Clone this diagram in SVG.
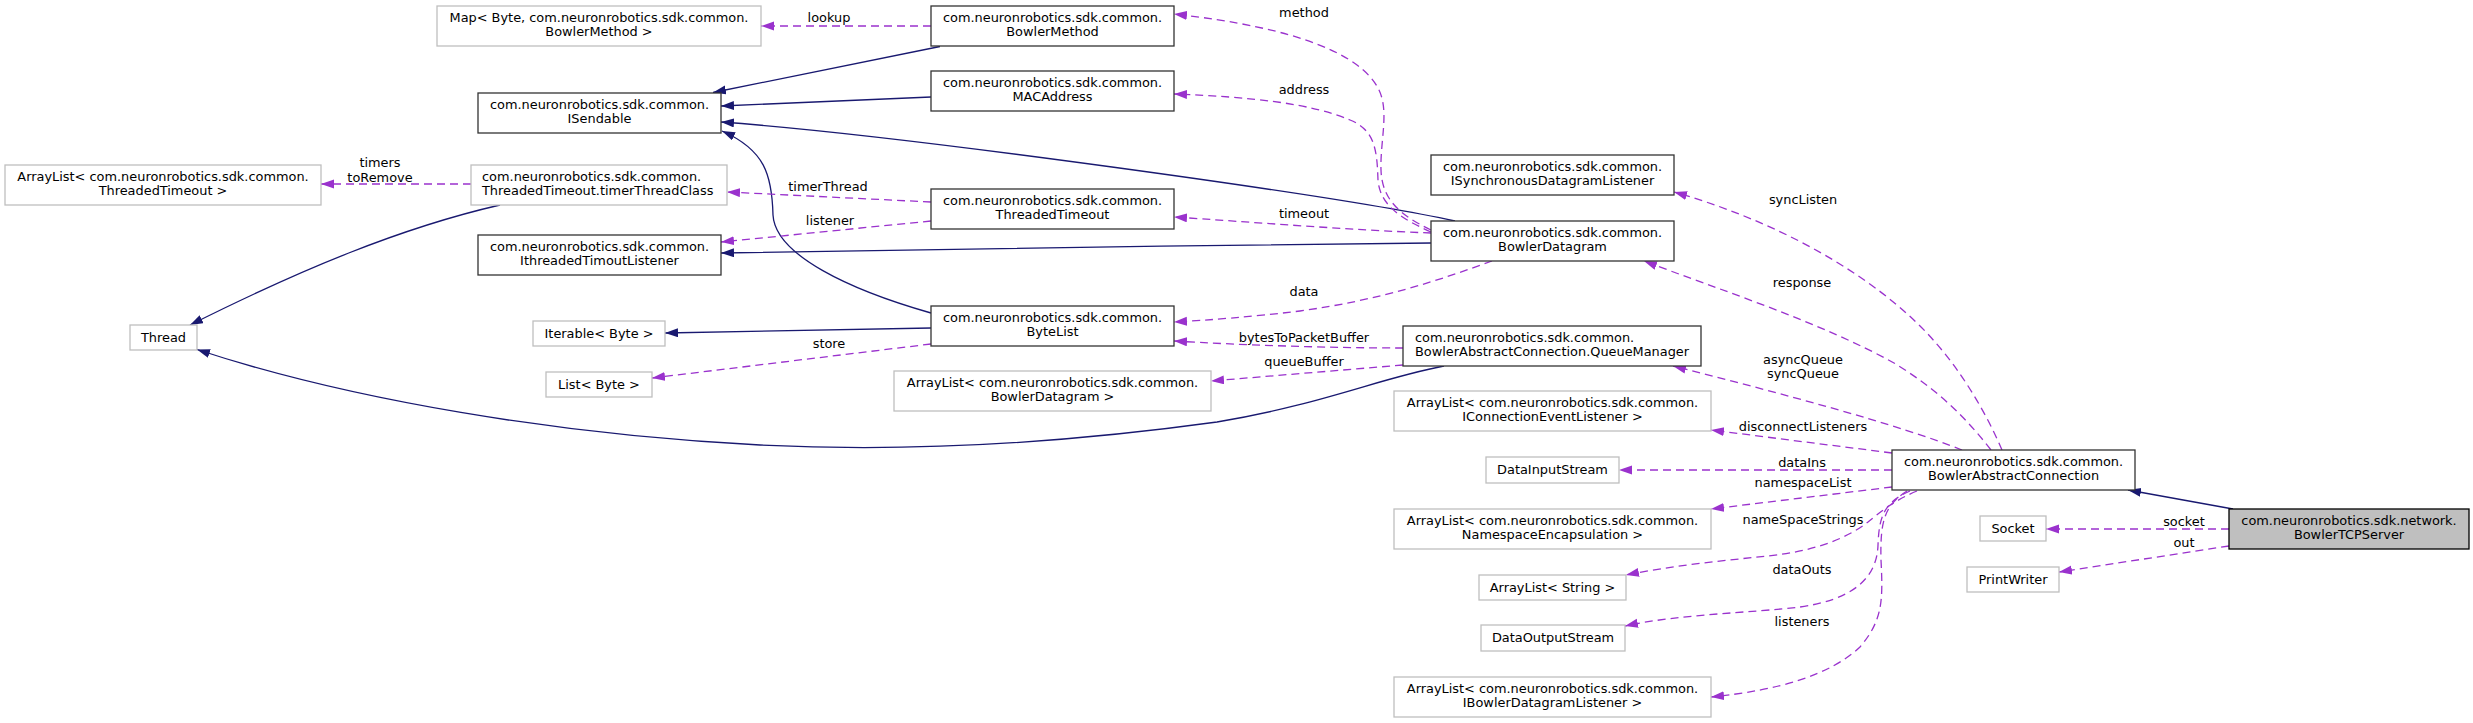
<svg xmlns="http://www.w3.org/2000/svg" width="2473" height="723" viewBox="0 0 2473 723">
<style>
text{font-family:"DejaVu Sans",sans-serif;font-size:12.9px;fill:#000}
.n rect{fill:#fff;stroke:#333;stroke-width:1.3}
.n.u rect{stroke:#bfbfbf}
.n.m rect{fill:#bfbfbf;stroke:#000}
.n text,.lbl text{text-anchor:middle}
.n text.l{text-anchor:start}
.inh{fill:none;stroke:#191970;stroke-width:1.3;marker-end:url(#ab)}
.use{fill:none;stroke:#9a32cd;stroke-width:1.3;stroke-dasharray:8,5;marker-end:url(#ap)}
</style>
<defs>
<marker id="ab" markerUnits="userSpaceOnUse" markerWidth="14" markerHeight="10" refX="13" refY="4.5" orient="auto"><path d="M0,0 L13,4.5 L0,9 z" fill="#191970"/></marker>
<marker id="ap" markerUnits="userSpaceOnUse" markerWidth="14" markerHeight="10" refX="13" refY="4.5" orient="auto"><path d="M0,0 L13,4.5 L0,9 z" fill="#9a32cd"/></marker>
</defs>
<rect width="2473" height="723" fill="#fff"/>
<g id="connectors">
<path class="inh" d="M940,46.5 L713,92.5"/>
<path class="inh" d="M931,97 L721,106"/>
<path class="inh" d="M1455,221 C1340,196 900,135 721,122"/>
<path class="inh" d="M1431,243 C1200,245 900,250 721,253"/>
<path class="inh" d="M931,313 C850,290 775,255 773,215 C772,175 765,150 722,131"/>
<path class="inh" d="M931,328 L665,333"/>
<path class="inh" d="M500,205 C400,228 300,270 190,325"/>
<path class="inh" d="M1444,366 C1380,378 1320,405 1217,422 C1050,445 900,452 760,445 C560,435 350,400 197,349.5"/>
<path class="inh" d="M2233,509 L2128,490"/>
<path class="use" d="M931,26 L761,26"/>
<path class="use" d="M471,184 L321,184"/>
<path class="use" d="M931,202 L727,192"/>
<path class="use" d="M931,221 L721,242"/>
<path class="use" d="M931,344 L652,378"/>
<path class="use" d="M1431,230 C1400,215 1382,200 1381,170 C1380,140 1390,110 1378,88 C1360,55 1300,28 1174,14"/>
<path class="use" d="M1431,232 C1400,218 1380,205 1378,180 C1377,150 1375,130 1350,120 C1310,103 1250,97 1174,94"/>
<path class="use" d="M1431,233 C1350,230 1250,222 1174,217"/>
<path class="use" d="M1492,261 C1440,280 1380,300 1300,311 C1250,317 1210,320 1174,322"/>
<path class="use" d="M1403,348 C1330,348 1240,345 1174,341"/>
<path class="use" d="M1403,365 L1211,381"/>
<path class="use" d="M2002,450 C1985,410 1960,370 1935,342 C1890,290 1800,228 1674,192"/>
<path class="use" d="M1991,450 C1960,410 1930,385 1894,363 C1820,322 1720,290 1644,261"/>
<path class="use" d="M1962,450 C1900,425 1780,393 1673,366"/>
<path class="use" d="M1892,453 L1711,430"/>
<path class="use" d="M1892,470 L1619,470"/>
<path class="use" d="M1892,487 L1711,509"/>
<path class="use" d="M1917,491 C1895,500 1880,512 1868,522 C1845,540 1810,552 1767,556 C1720,561 1670,566 1626,575"/>
<path class="use" d="M1910,491 C1885,502 1879,515 1878,545 C1877,580 1850,600 1800,607 C1750,613 1680,614 1625,626"/>
<path class="use" d="M1907,491 C1885,505 1880,520 1881,560 C1883,600 1883,620 1860,647 C1830,675 1780,690 1711,697"/>
<path class="use" d="M2229,529 L2046,529"/>
<path class="use" d="M2229,546 L2059,572"/>
</g>
<g id="labels" class="lbl">
<text x="829" y="21.5">lookup</text>
<text x="380" y="166.5">timers</text>
<text x="380" y="181.5">toRemove</text>
<text x="828" y="190.5">timerThread</text>
<text x="830" y="224.5">listener</text>
<text x="829" y="347.5">store</text>
<text x="1304" y="16.5">method</text>
<text x="1304" y="93.5">address</text>
<text x="1304" y="217.5">timeout</text>
<text x="1304" y="295.5">data</text>
<text x="1304" y="341.5">bytesToPacketBuffer</text>
<text x="1304" y="365.5">queueBuffer</text>
<text x="1803" y="203.5">syncListen</text>
<text x="1802" y="286.5">response</text>
<text x="1803" y="363.5">asyncQueue</text>
<text x="1803" y="377.5">syncQueue</text>
<text x="1803" y="430.5">disconnectListeners</text>
<text x="1802" y="466.5">dataIns</text>
<text x="1803" y="486.5">namespaceList</text>
<text x="1803" y="523.5">nameSpaceStrings</text>
<text x="1802" y="573.5">dataOuts</text>
<text x="1802" y="625.5">listeners</text>
<text x="2184" y="525.5">socket</text>
<text x="2184" y="546.5">out</text>
</g>
<g id="n_map" class="n u"><rect x="437" y="6" width="324" height="40"/><text x="599" y="22">Map&lt; Byte, com.neuronrobotics.sdk.common.</text><text x="599" y="36">BowlerMethod &gt;</text></g>
<g id="n_bowlermethod" class="n"><rect x="931" y="6" width="243" height="40"/><text x="1052.5" y="22">com.neuronrobotics.sdk.common.</text><text x="1052.5" y="36">BowlerMethod</text></g>
<g id="n_isendable" class="n"><rect x="478" y="93" width="243" height="40"/><text x="599.5" y="109">com.neuronrobotics.sdk.common.</text><text x="599.5" y="123">ISendable</text></g>
<g id="n_macaddress" class="n"><rect x="931" y="71" width="243" height="40"/><text x="1052.5" y="87">com.neuronrobotics.sdk.common.</text><text x="1052.5" y="101">MACAddress</text></g>
<g id="n_altt" class="n u"><rect x="5" y="165" width="316" height="40"/><text x="163" y="181">ArrayList&lt; com.neuronrobotics.sdk.common.</text><text x="163" y="195">ThreadedTimeout &gt;</text></g>
<g id="n_timerthreadclass" class="n u"><rect x="471" y="165" width="256" height="40"/><text class="l" x="482" y="181">com.neuronrobotics.sdk.common.</text><text class="l" x="482" y="195">ThreadedTimeout.timerThreadClass</text></g>
<g id="n_threadedtimeout" class="n"><rect x="931" y="189" width="243" height="40"/><text x="1052.5" y="205">com.neuronrobotics.sdk.common.</text><text x="1052.5" y="219">ThreadedTimeout</text></g>
<g id="n_isdl" class="n"><rect x="1431" y="155" width="243" height="40"/><text x="1552.5" y="171">com.neuronrobotics.sdk.common.</text><text x="1552.5" y="185">ISynchronousDatagramListener</text></g>
<g id="n_itl" class="n"><rect x="478" y="235" width="243" height="40"/><text x="599.5" y="251">com.neuronrobotics.sdk.common.</text><text x="599.5" y="265">IthreadedTimoutListener</text></g>
<g id="n_bowlerdatagram" class="n"><rect x="1431" y="221" width="243" height="40"/><text x="1552.5" y="237">com.neuronrobotics.sdk.common.</text><text x="1552.5" y="251">BowlerDatagram</text></g>
<g id="n_thread" class="n u"><rect x="130" y="325" width="67" height="25"/><text x="163.5" y="341.5">Thread</text></g>
<g id="n_iterable" class="n u"><rect x="533" y="321" width="132" height="25"/><text x="599" y="337.5">Iterable&lt; Byte &gt;</text></g>
<g id="n_bytelist" class="n"><rect x="931" y="306" width="243" height="40"/><text x="1052.5" y="322">com.neuronrobotics.sdk.common.</text><text x="1052.5" y="336">ByteList</text></g>
<g id="n_list" class="n u"><rect x="546" y="372" width="106" height="25"/><text x="599" y="388.5">List&lt; Byte &gt;</text></g>
<g id="n_queuemanager" class="n"><rect x="1403" y="326" width="298" height="40"/><text class="l" x="1415" y="342">com.neuronrobotics.sdk.common.</text><text class="l" x="1415" y="356">BowlerAbstractConnection.QueueManager</text></g>
<g id="n_albd" class="n u"><rect x="894" y="371" width="317" height="40"/><text x="1052.5" y="387">ArrayList&lt; com.neuronrobotics.sdk.common.</text><text x="1052.5" y="401">BowlerDatagram &gt;</text></g>
<g id="n_alcel" class="n u"><rect x="1394" y="391" width="317" height="40"/><text x="1552.5" y="407">ArrayList&lt; com.neuronrobotics.sdk.common.</text><text x="1552.5" y="421">IConnectionEventListener &gt;</text></g>
<g id="n_datainputstream" class="n u"><rect x="1486" y="457" width="133" height="26"/><text x="1552.5" y="474">DataInputStream</text></g>
<g id="n_bac" class="n"><rect x="1892" y="450" width="243" height="40"/><text x="2013.5" y="466">com.neuronrobotics.sdk.common.</text><text x="2013.5" y="480">BowlerAbstractConnection</text></g>
<g id="n_alne" class="n u"><rect x="1394" y="509" width="317" height="40"/><text x="1552.5" y="525">ArrayList&lt; com.neuronrobotics.sdk.common.</text><text x="1552.5" y="539">NamespaceEncapsulation &gt;</text></g>
<g id="n_tcpserver" class="n m"><rect x="2229" y="509" width="240" height="40"/><text x="2349" y="525">com.neuronrobotics.sdk.network.</text><text x="2349" y="539">BowlerTCPServer</text></g>
<g id="n_socket" class="n u"><rect x="1980" y="516" width="66" height="25"/><text x="2013" y="532.5">Socket</text></g>
<g id="n_als" class="n u"><rect x="1479" y="575" width="147" height="25"/><text x="1552.5" y="591.5">ArrayList&lt; String &gt;</text></g>
<g id="n_printwriter" class="n u"><rect x="1967" y="567" width="92" height="25"/><text x="2013" y="583.5">PrintWriter</text></g>
<g id="n_dataoutputstream" class="n u"><rect x="1481" y="625" width="144" height="26"/><text x="1553" y="642">DataOutputStream</text></g>
<g id="n_albdl" class="n u"><rect x="1394" y="677" width="317" height="40"/><text x="1552.5" y="693">ArrayList&lt; com.neuronrobotics.sdk.common.</text><text x="1552.5" y="707">IBowlerDatagramListener &gt;</text></g>
</svg>
